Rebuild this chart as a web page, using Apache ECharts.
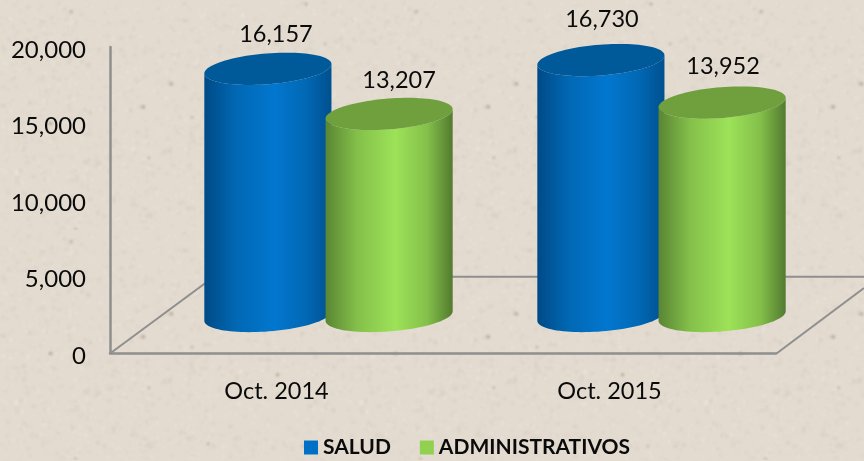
<!DOCTYPE html>
<html><head><meta charset="utf-8">
<style>html,body{margin:0;padding:0;background:#e3dbd0}#c{width:864px;height:461px}</style>
<script src="https://cdn.jsdelivr.net/npm/echarts@6/dist/echarts.min.js"></script>
</head><body><div id="c"></div>
<script>
const categories = ['Oct. 2014', 'Oct. 2015'];
const salud = [16157, 16730];
const administrativos = [13207, 13952];
const yTicks = [0, 5000, 10000, 15000, 20000];

// paper-like backdrop (decoration only, not data)
function paperTile() {
  const s = 345, h = 230, cv = document.createElement('canvas');
  cv.width = s; cv.height = h;
  const g = cv.getContext('2d');
  g.fillStyle = '#e3dbd0'; g.fillRect(0, 0, s, h);
  let seed = 12345;
  const r = () => (seed = (seed * 1664525 + 1013904223) >>> 0) / 4294967296;
  g.filter = 'blur(1px)';
  for (let i = 0; i < 2600; i++) {
    const d = r() < 0.5;
    g.fillStyle = d ? 'rgba(178,166,148,' + (0.04 + r() * 0.1) + ')' : 'rgba(245,240,232,' + (0.08 + r() * 0.2) + ')';
    const w = 1 + r() * 3;
    g.fillRect(r() * s, r() * h, w, w);
  }
  for (let i = 0; i < 14; i++) {
    g.fillStyle = 'rgba(140,128,112,' + (0.2 + r() * 0.3) + ')';
    g.beginPath(); g.arc(r() * s, r() * h, 1.2 + r() * 1, 0, 7); g.fill();
  }
  return cv;
}

const BLUE = { side: ['#004a86', '#0168b4', '#0277cf', '#0168b4', '#00508f'], cap: '#005a9a', swatch: '#0070c6' };
const GREEN = { side: ['#5a8534', '#84c04a', '#9de258', '#84c04a', '#527a2f'], cap: '#70a03e', swatch: '#92d050' };
const GREY = '#8f8f8f';

// depth of the 3D projection, in pixels
const DEPTH_X = 52, DEPTH_Y = 37;
const labelNudge = { '0-0': [8, 1], '0-1': [10, 1], '1-0': [1, -6], '1-1': [1, -1] };

function ellipsePts(cx, cy, a, b, from, to, n) {
  const t = -4.5 * Math.PI / 180, out = [];
  for (let i = 0; i <= n; i++) {
    const p = from + (to - from) * i / n;
    const x = a * Math.cos(p), y = b * Math.sin(p);
    out.push([cx + x * Math.cos(t) - y * Math.sin(t), cy + x * Math.sin(t) + y * Math.cos(t)]);
  }
  return out;
}

function cylinder(seriesIdx, pal) {
  return function (params, api) {
    const cat = api.value(0), val = api.value(1);
    const band = api.size([1, 0])[0];
    const top = api.coord([cat, val]), base = api.coord([cat, 0]);
    const cx = top[0] + DEPTH_X + (seriesIdx === 0 ? -0.182 : 0.182) * band;
    const a = 0.1915 * band, b = 15.4;
    const ty = top[1] - DEPTH_Y, by = base[1] - DEPTH_Y;
    const bodyPts = ellipsePts(cx, by, a, b, 0, Math.PI, 48).concat(ellipsePts(cx, ty, a, b, Math.PI, 0, 48));
    const nudge = labelNudge[cat + '-' + seriesIdx];
    return {
      type: 'group',
      children: [
        { type: 'polygon', shape: { points: bodyPts }, style: { fill: {
            type: 'linear', x: 0, y: 0, x2: 1, y2: 0,
            colorStops: [
              { offset: 0, color: pal.side[0] }, { offset: 0.25, color: pal.side[1] },
              { offset: 0.55, color: pal.side[2] }, { offset: 0.8, color: pal.side[3] },
              { offset: 1, color: pal.side[4] }] } } },
        { type: 'polygon', shape: { points: ellipsePts(cx, ty, a, b, 0, Math.PI * 2, 96) }, style: { fill: pal.cap } },
        { type: 'text', style: {
            x: cx + nudge[0], y: ty - 35 + nudge[1],
            text: api.value(1).toLocaleString('en-US'),
            font: '23.5px Lato', fill: '#0a0a0a', align: 'center', verticalAlign: 'middle' } }
      ]
    };
  };
}

function rows(values) { return values.map((v, i) => [i, v]); }

const chart = echarts.init(document.getElementById('c'));
chart.setOption({
  animation: false,
  backgroundColor: { image: paperTile(), repeat: 'repeat' },
  grid: { left: 110, right: 88, top: 47, bottom: 108 },
  textStyle: { fontFamily: 'Lato' },
  xAxis: {
    type: 'category', data: categories,
    axisLine: { lineStyle: { color: GREY, width: 2.5 } }, axisTick: { show: false },
    axisLabel: { color: '#0a0a0a', fontSize: 23.5, fontFamily: 'Lato', margin: 26 },
    splitLine: { show: false }
  },
  yAxis: {
    type: 'value', min: yTicks[0], max: yTicks[yTicks.length - 1], interval: yTicks[1],
    axisLine: { show: true, lineStyle: { color: GREY, width: 2.5 } }, axisTick: { show: false },
    axisLabel: { color: '#0a0a0a', fontSize: 24, fontFamily: 'Lato', margin: 24,
      verticalAlign: 'top', lineHeight: 6,
      formatter: v => v.toLocaleString('en-US') },
    splitLine: { show: false }
  },
  legend: {
    left: 304, top: 437, padding: 0, itemWidth: 14, itemHeight: 14, itemGap: 29, icon: 'rect',
    textStyle: { fontSize: 21, fontWeight: 'bold', fontFamily: 'Lato', color: '#0a0a0a', padding: 0 },
    data: ['SALUD', 'ADMINISTRATIVOS']
  },
  graphic: [
    { type: 'polyline', z: 1, silent: true, shape: { points: [[110, 353.5], [214, 276.7], [864, 276.7]] },
      style: { stroke: GREY, lineWidth: 2, fill: null } },
    { type: 'line', z: 1, silent: true, shape: { x1: 776.5, y1: 353.5, x2: 864, y2: 288 },
      style: { stroke: GREY, lineWidth: 2 } }
  ],
  series: [
    { name: 'SALUD', type: 'custom', z: 3, itemStyle: { color: BLUE.swatch }, clip: false,
      encode: { x: 0, y: 1 }, data: rows(salud), renderItem: cylinder(0, BLUE) },
    { name: 'ADMINISTRATIVOS', type: 'custom', z: 4, itemStyle: { color: GREEN.swatch }, clip: false,
      encode: { x: 0, y: 1 }, data: rows(administrativos), renderItem: cylinder(1, GREEN) }
  ]
});
</script></body></html>
